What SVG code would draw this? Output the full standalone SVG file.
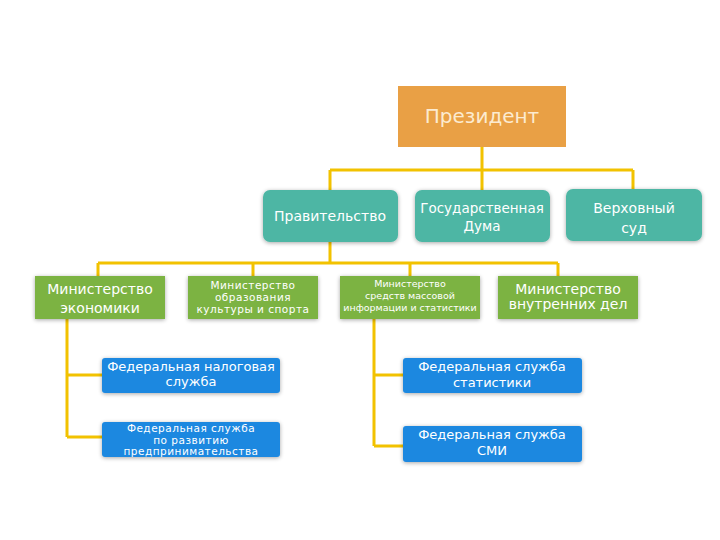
<svg xmlns="http://www.w3.org/2000/svg" width="720" height="540" viewBox="0 0 720 540">
<defs>
<filter id="sh" x="-10%" y="-20%" width="120%" height="140%">
<feGaussianBlur in="SourceAlpha" stdDeviation="2"/>
<feOffset dx="0" dy="1" result="b"/>
<feComponentTransfer><feFuncA type="linear" slope="0.35"/></feComponentTransfer>
<feMerge><feMergeNode/><feMergeNode in="SourceGraphic"/></feMerge>
</filter>
<style>
text{font-family:"DejaVu Sans","Liberation Sans",sans-serif;fill:#ffffff;text-anchor:middle}
.conn{stroke:#F2C200;stroke-width:3;fill:none}
.pres{fill:#E9A045}
.teal{fill:#4DB6A4;filter:url(#sh)}
.green{fill:#7CB342;filter:url(#sh)}
.blue{fill:#1E88E0;filter:url(#sh)}
.sm{font-size:10.5px;letter-spacing:0.5px}
</style>
</defs>
<rect width="720" height="540" fill="#ffffff"/>
<g id="connectors">
<path class="conn" d="M482 147V170M330 170H633M330 170V190M482 170V190M633 170V189"/>
<path class="conn" d="M330 242V263M98 263H558M98 263V276M253 263V276M410 263V276M558 263V276"/>
<path class="conn" d="M67 319V437M67 375H102M67 437H102"/>
<path class="conn" d="M374 319V446M374 375H403M374 446H403"/>
</g>
<g id="president">
<rect class="pres" x="398" y="86" width="168" height="61"/>
<text x="482" y="123" font-size="20" style="fill:#FCEBD0">Президент</text>
</g>
<g id="government">
<rect class="teal" x="263" y="190" width="135" height="52" rx="7"/>
<text x="330" y="221" font-size="14">Правительство</text>
</g>
<g id="duma">
<rect class="teal" x="415" y="190" width="135" height="52" rx="7"/>
<text x="482" y="213" font-size="13.5">Государственная</text>
<text x="482" y="231" font-size="13.5">Дума</text>
</g>
<g id="court">
<rect class="teal" x="566" y="189" width="136" height="52" rx="7"/>
<text x="634" y="213" font-size="14">Верховный</text>
<text x="634" y="233" font-size="14">суд</text>
</g>
<g id="min-econ">
<rect class="green" x="35" y="276" width="130" height="43"/>
<text x="100" y="294" font-size="14">Министерство</text>
<text x="100" y="313" font-size="14">экономики</text>
</g>
<g id="min-edu">
<rect class="green" x="188" y="276" width="130" height="43"/>
<text x="253" y="288.5" class="sm">Министерство</text>
<text x="253" y="300.5" class="sm">образования</text>
<text x="253" y="312.5" class="sm">культуры и спорта</text>
</g>
<g id="min-media">
<rect class="green" x="340" y="276" width="140" height="43"/>
<text x="410" y="287" font-size="9.5">Министерство</text>
<text x="410" y="299" font-size="9.5">средств массовой</text>
<text x="410" y="311" font-size="9.5">информации и статистики</text>
</g>
<g id="min-internal">
<rect class="green" x="498" y="276" width="140" height="43"/>
<text x="568" y="294" font-size="14">Министерство</text>
<text x="568" y="309" font-size="14">внутренних дел</text>
</g>
<g id="fns">
<rect class="blue" x="102" y="358" width="178" height="35" rx="3"/>
<text x="191" y="371" font-size="13">Федеральная налоговая</text>
<text x="191" y="386" font-size="13">служба</text>
</g>
<g id="fs-business">
<rect class="blue" x="102" y="422" width="178" height="35" rx="3"/>
<text x="191" y="432" class="sm">Федеральная служба</text>
<text x="191" y="443.5" class="sm">по развитию</text>
<text x="191" y="455" class="sm">предпринимательства</text>
</g>
<g id="fs-stat">
<rect class="blue" x="403" y="358" width="179" height="35" rx="3"/>
<text x="492" y="371" font-size="13">Федеральная служба</text>
<text x="492" y="387" font-size="13">статистики</text>
</g>
<g id="fs-media">
<rect class="blue" x="403" y="426" width="179" height="36" rx="3"/>
<text x="492" y="439" font-size="13">Федеральная служба</text>
<text x="492" y="455" font-size="13">СМИ</text>
</g>
</svg>
